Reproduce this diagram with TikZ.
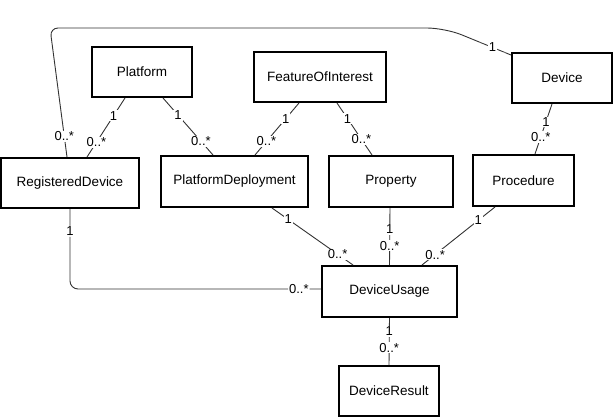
\documentclass[tikz,border=0pt]{standalone}
\usepackage{fontspec}
\setmainfont{Liberation Sans}
\begin{document}
\begin{tikzpicture}[x=1pt,y=1pt]
                \tikzstyle{every node}+=[inner sep=0pt]
                \tikzstyle{cls}=[draw, black, line width=2pt, minimum height=50pt, font=\fontsize{13.5}{16}\selectfont]
                \tikzstyle{assoc}=[black!80, line width=0.9pt]
                \tikzstyle{mult}=[fill=white, text=black, inner sep=1pt, font=\fontsize{13}{15}\selectfont]
                \useasboundingbox (0,0) rectangle (614,-418);
                \node [cls, minimum width=100pt] (platform) at (142,-72) {Platform};
                \node [cls, minimum width=132pt] (foi) at (320,-77) {FeatureOfInterest};
                \node [cls, minimum width=100pt] (device) at (562,-78) {Device};
                \node [cls, minimum width=138pt] (regdev) at (70,-183) {RegisteredDevice};
                \node [cls, minimum width=147pt, minimum height=51pt] (platdep) at (234.5,-181.5) {PlatformDeployment};
                \node [cls, minimum width=124pt, minimum height=51pt] (property) at (391,-181.5) {Property};
                \node [cls, minimum width=101pt, minimum height=51pt] (procedure) at (523.5,-180.5) {Procedure};
                \node [cls, minimum width=135pt, minimum height=51pt] (devusage) at (389.5,-291.5) {DeviceUsage};
                \node [cls, minimum width=100pt] (devresult) at (389,-391) {DeviceResult};
                \coordinate (loopL) at (50,-28);
                \coordinate (loopR) at (445,-28);
                \draw [assoc, rounded corners=8pt] ([xshift=-3pt]regdev.north) -- node [mult, pos=0.16] {0..*} (loopL) [rounded corners=18pt] -- (loopR) -- node [mult, pos=0.72] {1} ([yshift=-3pt]device.north west);
                \draw [assoc] ([xshift=-17pt]platform.south) -- node [mult, pos=0.3] {1} node [mult, pos=0.75] {0..*} ([xshift=17pt]regdev.north);
                \draw [assoc] ([xshift=21pt]platform.south) -- node [mult, pos=0.3] {1} node [mult, pos=0.76] {0..*} ([xshift=-21.5pt]platdep.north);
                \draw [assoc] ([xshift=-21pt]foi.south) -- node [mult, pos=0.3] {1} node [mult, pos=0.74] {0..*} ([xshift=20.5pt]platdep.north);
                \draw [assoc] ([xshift=17pt]foi.south) -- node [mult, pos=0.3] {1} node [mult, pos=0.7] {0..*} ([xshift=-19pt]property.north);
                \draw [assoc] ([xshift=-10pt]device.south) -- node [mult, pos=0.36] {1} node [mult, pos=0.66] {0..*} ([xshift=11.5pt]procedure.north);
                \draw [assoc] ([xshift=37.5pt]platdep.south) -- node [mult, pos=0.2] {1} node [mult, pos=0.81] {0..*} ([xshift=-36.5pt]devusage.north);
                \draw [assoc] ([xshift=-1pt]property.south) -- node [mult, pos=0.37] {1} node [mult, pos=0.66] {0..*} (devusage.north);
                \draw [assoc] ([xshift=-28.5pt]procedure.south) -- node [mult, pos=0.23] {1} node [mult, pos=0.82] {0..*} ([xshift=32.5pt]devusage.north);
                \draw [assoc, rounded corners=8pt] (regdev.south) |- node [mult, pos=0.14] {1} node [mult, pos=0.956] {0..*} ([yshift=2.5pt]devusage.west);
                \draw [assoc] (devusage.south) -- node [mult, pos=0.28] {1} node [mult, pos=0.63] {0..*} (devresult.north);
\end{tikzpicture}
\end{document}
